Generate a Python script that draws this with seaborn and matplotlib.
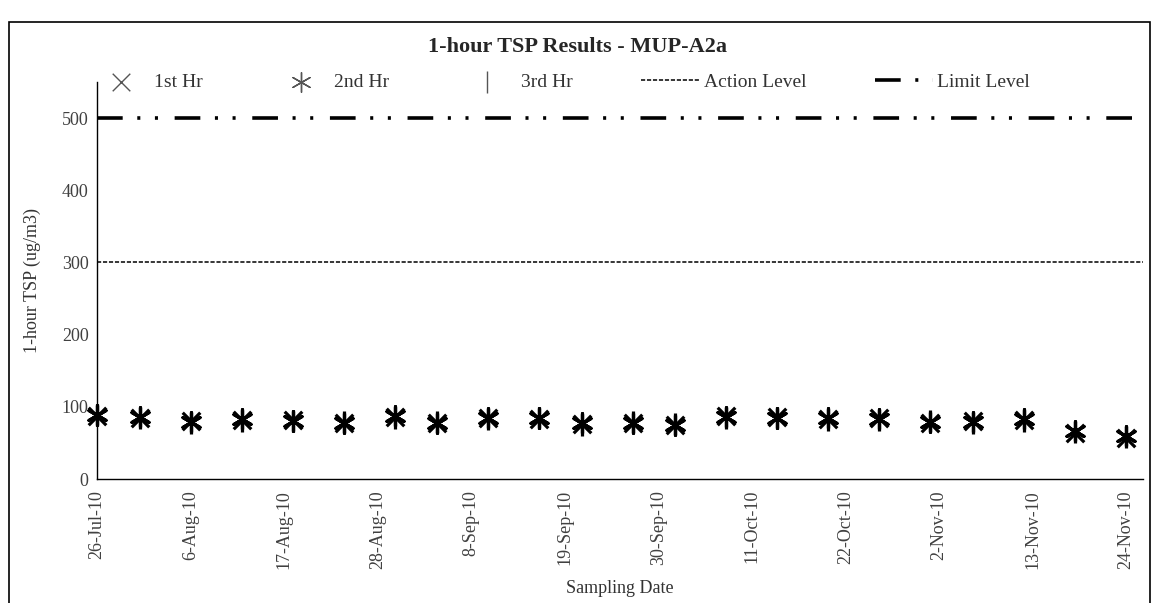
import pandas as pd
import matplotlib
matplotlib.use("Agg")
import matplotlib.pyplot as plt
from matplotlib.patches import Rectangle
import seaborn as sns

# Sampling dates and 1-hour TSP readings (ug/m3)
dates = pd.to_datetime([
    "2010-07-26", "2010-07-31", "2010-08-06", "2010-08-12", "2010-08-18",
    "2010-08-24", "2010-08-30", "2010-09-04", "2010-09-10", "2010-09-16",
    "2010-09-21", "2010-09-27", "2010-10-02", "2010-10-08", "2010-10-14",
    "2010-10-20", "2010-10-26", "2010-11-01", "2010-11-06", "2010-11-12",
    "2010-11-18", "2010-11-24",
])
hr1 = [87, 85, 80, 82, 82, 77, 86, 77, 85, 83, 76, 77, 75, 87, 86, 83, 84, 78, 80, 82, 64, 57]
hr2 = [88, 86, 79, 83, 81, 78, 87, 78, 84, 84, 77, 78, 75, 86, 85, 84, 83, 79, 79, 83, 66, 59]
hr3 = [89, 84, 78, 81, 80, 79, 85, 79, 83, 85, 75, 79, 76, 85, 84, 82, 82, 80, 78, 81, 65, 58]
action_level = 300
limit_level = 500

tick_dates = pd.date_range("2010-07-26", periods=12, freq="11D")
tick_labels = [f"{d.day}-{d.strftime('%b-%y')}" for d in tick_dates]

sns.set_style("white")
plt.rcParams["font.family"] = ["Liberation Serif", "DejaVu Serif"]
plt.rcParams["lines.scale_dashes"] = False

fig = plt.figure(figsize=(11.55, 6.03), dpi=100)
ax = fig.add_axes([97 / 1155, 1 - 479 / 603, (1143 - 97) / 1155, (479 - 82) / 603])

sns.scatterplot(x=dates, y=hr1, marker="x", s=160, color="black", linewidth=2.3,
                ax=ax, label="1st Hr", clip_on=False, zorder=3)
sns.scatterplot(x=dates, y=hr2, marker=(6, 2, 0), s=200, color="black", linewidth=2.3,
                ax=ax, label="2nd Hr", clip_on=False, zorder=3)
sns.scatterplot(x=dates, y=hr3, marker="|", s=230, color="black", linewidth=2.3,
                ax=ax, label="3rd Hr", clip_on=False, zorder=3)

ax.axhline(action_level, color="black", lw=1.1, linestyle=(0, (3.0, 1.3)), label="Action Level")
ax.axhline(limit_level, color="black", lw=2.6, dash_capstyle="butt",
           linestyle=(0, (18.5, 10.5, 2.2, 10.5, 2.2, 12.0)), label="Limit Level")

ax.set_xlim(pd.Timestamp("2010-07-26"), pd.Timestamp("2010-11-26"))
ax.set_ylim(0, 550)
ax.set_yticks([0, 100, 200, 300, 400, 500])
ax.set_xticks(tick_dates)
ax.set_xticklabels(tick_labels, rotation=90)
ax.tick_params(axis="both", direction="in", length=5, width=1, colors="black",
               labelcolor="#404040", labelsize=13)
ax.tick_params(axis="x", pad=8)
ax.tick_params(axis="y", pad=6)
ax.grid(False)
for side in ["top", "right"]:
    ax.spines[side].set_visible(False)
for side in ["left", "bottom"]:
    ax.spines[side].set_color("black")
    ax.spines[side].set_linewidth(1)

ax.set_ylabel("1-hour TSP (ug/m3)", fontsize=13, color="#333333", labelpad=15)
ax.set_xlabel("Sampling Date", fontsize=13, color="#333333", labelpad=8)

handles, labels = ax.get_legend_handles_labels()
if ax.legend_:
    ax.legend_.remove()
leg = fig.legend(handles, labels, loc="center", bbox_to_anchor=(561 / 1155, 1 - 82 / 603), ncol=5,
                 frameon=False, fontsize=14, handlelength=3.0, columnspacing=3.55,
                 handletextpad=0.2, labelcolor="#333333")
for h in leg.legend_handles[:3]:
    h.set_linewidth(1.0)
    h.set_edgecolor("#555555")
    h.set_facecolor("#555555")

fig.text(578 / 1155, 1 - 47 / 603, "1-hour TSP Results - MUP-A2a", ha="center", va="center",
         fontsize=16, fontweight="bold")

# outer chart border
fig.patches.append(Rectangle((9 / 1155, -0.02), (1150 - 9) / 1155, (603 - 22) / 603 + 0.02,
                             transform=fig.transFigure, fill=False, edgecolor="black", lw=1.2))

fig.savefig("out.png", dpi=100)
